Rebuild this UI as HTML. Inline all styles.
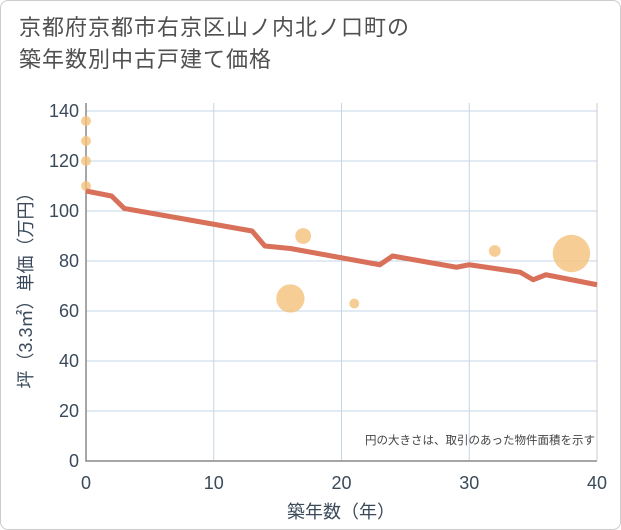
<!DOCTYPE html>
<html><head><meta charset="utf-8"><style>
body{margin:0;background:#fff;}
.card{position:absolute;left:0;top:0;width:619px;height:528px;border:1px solid #ccc;border-radius:8px;background:#fff;overflow:hidden;}
.title{position:absolute;left:18px;top:11px;font-family:"Liberation Sans","Noto Sans CJK JP",sans-serif;font-size:22px;line-height:32px;color:#505050;letter-spacing:1px;}
text{font-family:"Liberation Sans","Noto Sans CJK JP",sans-serif;}
</style></head><body>
<div class="card">
<div class="title">京都府京都市右京区山ノ内北ノ口町の<br>築年数別中古戸建て価格</div>
<svg id="chart" width="621" height="530" style="position:absolute;left:0;top:0"></svg>
</div>
<script>
const xTicks=[0,10,20,30,40];
const yTicks=[0,20,40,60,80,100,120,140];
const lineYears=[0,2,3,13,14,16,23,24,29,30,34,35,36,40];
const linePrices=[108,106,101,92,86,85,78.5,82,77.5,78.5,75.5,72.5,74.5,70.5];
const bubbleYears=[0,0,0,0,16,17,21,32,38];
const bubblePrices=[136,128,120,110,65,90,63,84,83];
const bubbleSizes=[1,1,1,1,8,2.5,1,1.4,14];
const L=85,R=596,T=102,B=460;
const xs=v=>L+(v/40)*(R-L);
const ys=v=>B-(v/140)*(B-110);
const svg=document.getElementById('chart');
const NS='http://www.w3.org/2000/svg';
const TC='#3a4a5a';
function mk(t,a){const e=document.createElementNS(NS,t);for(const k in a)e.setAttribute(k,a[k]);svg.appendChild(e);return e;}
let bg=mk('rect',{x:L,y:T,width:R-L,height:B-T,fill:'#fff'});


xTicks.forEach(v=>{
 let g=mk('line',{x1:xs(v),x2:xs(v),y1:T,y2:B,stroke:'#c5d5e8','stroke-width':1});
 
 
 let t=mk('text',{x:xs(v),y:488,'text-anchor':'middle','font-size':18,fill:TC});t.textContent=v;
 
 
});
yTicks.forEach(v=>{
 let g=mk('line',{x1:L,x2:R,y1:ys(v),y2:ys(v),stroke:'#c5d5e8','stroke-width':1});
 
 
 let t=mk('text',{x:78,y:ys(v)+6,'text-anchor':'end','font-size':18,fill:TC});t.textContent=v;
 
 
});
let ax=mk('path',{d:`M${L},${T}V${B}H${R}`,fill:'none',stroke:'#888','stroke-width':1.5});


mk('line',{x1:R,x2:R,y1:T,y2:B,stroke:'#ccc','stroke-width':1});
bubbleYears.forEach((y,i)=>{
 let c=mk('circle',{cx:xs(y),cy:ys(bubblePrices[i]),r:5*Math.sqrt(bubbleSizes[i]),fill:'#f4c27a','fill-opacity':0.8});
 
 
});
let p=mk('polyline',{points:lineYears.map((y,i)=>xs(y)+','+ys(linePrices[i])).join(' '),fill:'none',stroke:'#d9705a','stroke-width':5,'stroke-linejoin':'round'});


let n=mk('text',{x:594,y:443,'text-anchor':'end','font-size':11.5,fill:'#444'});n.textContent='円の大きさは、取引のあった物件面積を示す';


let xt=mk('text',{x:340,y:517,'text-anchor':'middle','font-size':18,fill:TC});xt.textContent='築年数（年）';


let yt=mk('text',{x:0,y:0,'text-anchor':'middle','font-size':18,fill:TC,transform:'translate(31,285) rotate(-90)'});yt.textContent='坪（3.3㎡）単価（万円）';


</script>
</body></html>
